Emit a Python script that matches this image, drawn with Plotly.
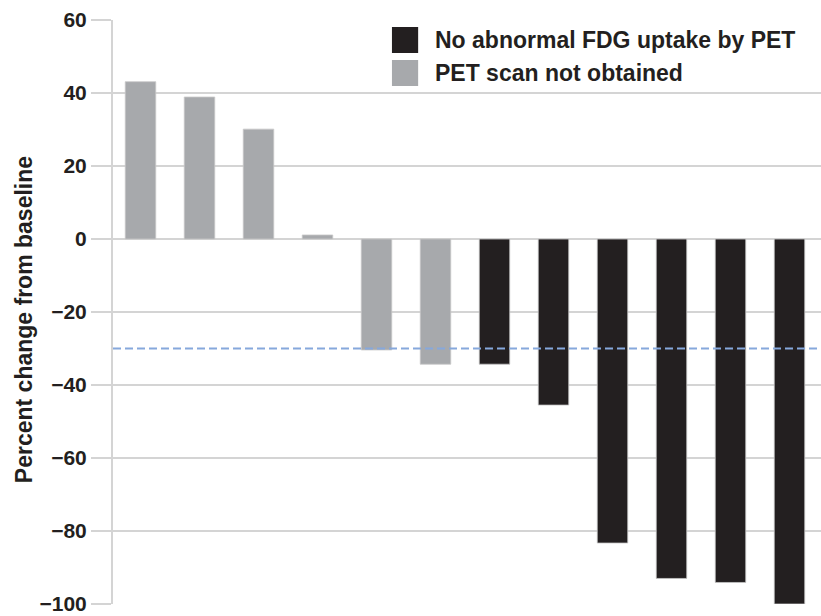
import plotly.graph_objects as go

patients = [f"P{i}" for i in range(1, 13)]
pct_change = [43.1, 38.9, 30.1, 1.1, -30.4, -34.3, -34.3, -45.5, -83.3, -93.0, -94.1, -100]
pet_group = ["not", "not", "not", "not", "not", "not", "no", "no", "no", "no", "no", "no"]
threshold = -30
y_ticks = [60, 40, 20, 0, -20, -40, -60, -80, -100]
legend_order = ["no", "not"]

colors = {"no": "#231f20", "not": "#a7a9ac"}
labels = {"no": "No abnormal FDG uptake by PET", "not": "PET scan not obtained"}
text_color = "#231f20"
font = "Liberation Sans, Arial, sans-serif"

fig = go.Figure()
fig.add_trace(go.Bar(
    x=patients, y=pct_change,
    marker=dict(color=[colors[g] for g in pet_group], line=dict(color="#c8c8c8", width=0.8)),
    width=0.517, showlegend=False, hoverinfo="skip",
))

fig.add_hline(y=threshold, line=dict(color="#86a8dc", width=2, dash="8px,4px"))

# manual legend (large swatches)
sw_x0, sw_x1 = 0.394, 0.431
sw_top, sw_h, sw_gap = 0.988, 0.0445, 0.0565
for i, g in enumerate(legend_order):
    top = sw_top - i * sw_gap
    fig.add_shape(type="rect", xref="paper", yref="paper",
                  x0=sw_x0, x1=sw_x1, y0=top - sw_h, y1=top,
                  fillcolor=colors[g], line=dict(width=0))
    fig.add_annotation(xref="paper", yref="paper", x=0.452, y=top - sw_h / 2,
                       xanchor="left", yanchor="middle", showarrow=False,
                       text=labels[g],
                       font=dict(size=23, family=font, color=text_color, weight="bold"))

# y axis title
fig.add_annotation(xref="paper", yref="paper", x=-0.1257, y=0.486,
                   xanchor="center", yanchor="middle", showarrow=False, textangle=-90,
                   text="Percent change from baseline",
                   font=dict(size=23, family=font, color=text_color, weight="bold"))

fig.update_layout(
    width=821, height=616,
    margin=dict(l=113, r=0, t=20, b=12),
    plot_bgcolor="white", paper_bgcolor="white",
    font=dict(family=font, color=text_color),
    showlegend=False,
    xaxis=dict(range=[-0.466, 11.534], showticklabels=False, showgrid=False, ticks="",
               zeroline=False, automargin=False),
    yaxis=dict(
        range=[-100, 60], tickvals=y_ticks, showgrid=True, gridcolor="#d4d4d4", gridwidth=2,
        zeroline=False, showline=True, linecolor="#d4d4d4", linewidth=2,
        ticks="outside", ticklen=20, tickcolor="#d4d4d4", tickwidth=2,
        tickfont=dict(size=21, family=font, color=text_color, weight="bold"),
        automargin=False,
    ),
)

fig.write_html(
    "out.html",
    config={"displayModeBar": False},
    post_script="document.body.style.margin='0';document.documentElement.style.overflow='hidden';",
)
